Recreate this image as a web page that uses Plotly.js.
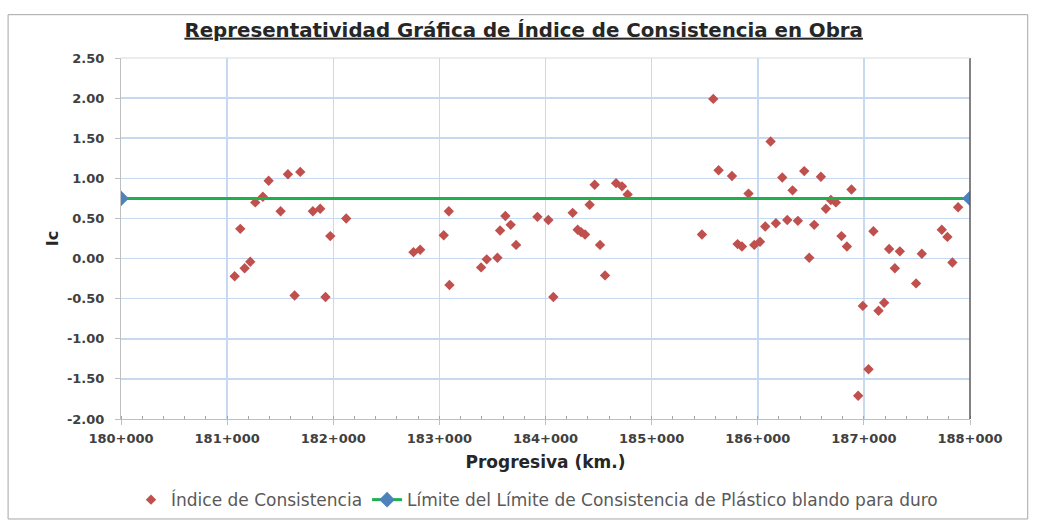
<!DOCTYPE html>
<html>
<head>
<meta charset="utf-8">
<script src="https://cdn.plot.ly/plotly-3.0.1.min.js"></script>
<style>html,body{margin:0;padding:0;background:#fff;}#chart{width:1037px;height:522px;}</style>
</head>
<body>
<div id="chart"></div>
<script>
// Progresiva (m) and Índice de Consistencia
const progresiva = [181071,181124,181165,181218,181265,181337,181391,181504,181573,181636,181689,181808,181877,181927,181972,182122,182756,182819,183041,183089,183095,183393,183446,183547,183572,183622,183672,183723,183924,184027,184074,184256,184303,184335,184373,184416,184463,184514,184561,184665,184721,184774,185474,185581,185631,185757,185810,185851,185913,185967,186021,186071,186121,186171,186231,186278,186328,186378,186438,186485,186532,186595,186642,186689,186736,186789,186840,186883,186946,186990,187044,187090,187138,187191,187238,187292,187339,187492,187546,187734,187787,187834,187888];
const ic = [-0.22,0.37,-0.12,-0.04,0.70,0.77,0.97,0.59,1.05,-0.46,1.08,0.59,0.62,-0.48,0.28,0.50,0.08,0.11,0.29,0.59,-0.33,-0.11,-0.01,0.01,0.35,0.53,0.42,0.17,0.52,0.48,-0.48,0.57,0.36,0.33,0.30,0.67,0.92,0.17,-0.21,0.94,0.90,0.80,0.30,1.99,1.10,1.03,0.18,0.15,0.81,0.17,0.21,0.40,1.46,0.44,1.01,0.48,0.85,0.47,1.09,0.01,0.42,1.02,0.62,0.73,0.70,0.28,0.15,0.86,-1.71,-0.59,-1.38,0.34,-0.65,-0.55,0.12,-0.12,0.09,-0.31,0.06,0.36,0.27,-0.05,0.64];
const limiteX = [180000, 188000];
const limiteY = [0.75, 0.75];
const xTickVals = [180000,181000,182000,183000,184000,185000,186000,187000,188000];
const xTickText = ["180+000","181+000","182+000","183+000","184+000","185+000","186+000","187+000","188+000"];
const yTickVals = [2.5,2.0,1.5,1.0,0.5,0.0,-0.5,-1.0,-1.5,-2.0];
const yTickText = ["2.50","2.00","1.50","1.00","0.50","0.00","-0.50","-1.00","-1.50","-2.00"];

const FONT = "'DejaVu Sans', sans-serif";

const traces = [
  {
    x: progresiva, y: ic, type: 'scatter', mode: 'markers',
    name: 'Índice de Consistencia',
    marker: {symbol: 'diamond', size: 8, color: '#c0504d'}
  },
  {
    x: limiteX, y: limiteY, type: 'scatter', mode: 'lines+markers',
    name: 'Límite del Límite de Consistencia de Plástico blando para duro',
    line: {color: '#1db04d', width: 3},
    marker: {symbol: 'diamond', size: 12, color: '#4f81bd'}
  }
];

const layout = {
  width: 1037, height: 522,
  margin: {l: 121, r: 67, t: 58, b: 103},
  paper_bgcolor: '#fff', plot_bgcolor: '#fff',
  font: {family: FONT, color: '#404040', size: 12},
  title: {
    text: '<u><b>Representatividad Gráfica de Índice de Consistencia en Obra</b></u>',
    font: {family: FONT, size: 19.8, color: '#262626'},
    x: 0.505, xanchor: 'center', y: 0.943, yanchor: 'middle'
  },
  showlegend: true,
  legend: {
    orientation: 'h', x: 0.49, xanchor: 'center', xref: 'paper',
    y: 0.042, yanchor: 'middle', yref: 'container',
    font: {family: FONT, size: 17, color: '#595959'}, traceorder: 'normal'
  },
  xaxis: {
    range: [180000, 188000], tickmode: 'array', tickvals: xTickVals, ticktext: xTickText,
    showgrid: true, gridcolor: '#c6d9f1', gridwidth: 1.5,
    showline: true, linecolor: '#bfbfbf', linewidth: 1, mirror: false,
    ticks: 'outside', ticklen: 5, tickcolor: '#bfbfbf', ticklabelstandoff: 2,
    minor: {dtick: 200, ticks: 'inside', ticklen: 3, tickcolor: '#a6a6a6', showgrid: false},
    tickfont: {family: FONT, size: 13, color: '#404040', weight: 'bold'},
    zeroline: false, automargin: false,
    title: {text: '<b>Progresiva (km.)</b>', font: {family: FONT, size: 17, color: '#262626'}, standoff: 11}
  },
  yaxis: {
    range: [-2, 2.5], tickmode: 'array', tickvals: yTickVals, ticktext: yTickText,
    showgrid: true, gridcolor: '#c6d9f1', gridwidth: 1.5,
    showline: true, linecolor: '#bfbfbf', linewidth: 1,
    ticks: 'outside', ticklen: 5, tickcolor: '#bfbfbf', ticklabelstandoff: 8,
    tickfont: {family: FONT, size: 13, color: '#404040', weight: 'bold'},
    zeroline: false, automargin: false,
    title: {text: '<b>Ic</b>', font: {family: FONT, size: 16, color: '#262626'}, standoff: 4}
  },
  shapes: [
    {type: 'rect', xref: 'paper', yref: 'paper', x0: -0.133, x1: 1.068, y0: -0.277, y1: 1.12,
     line: {color: '#a6a6a6', width: 1}, fillcolor: 'rgba(0,0,0,0)', layer: 'below'},
    {type: 'line', xref: 'paper', yref: 'paper', x0: 1, x1: 1, y0: 0, y1: 1,
     line: {color: '#595959', width: 1.5}},
    {type: 'line', xref: 'paper', yref: 'paper', x0: 0, x1: 1, y0: 1, y1: 1,
     line: {color: '#d9d9d9', width: 1}}
  ]
};

Plotly.newPlot('chart', traces, layout, {displayModeBar: false, staticPlot: true});
</script>
</body>
</html>
